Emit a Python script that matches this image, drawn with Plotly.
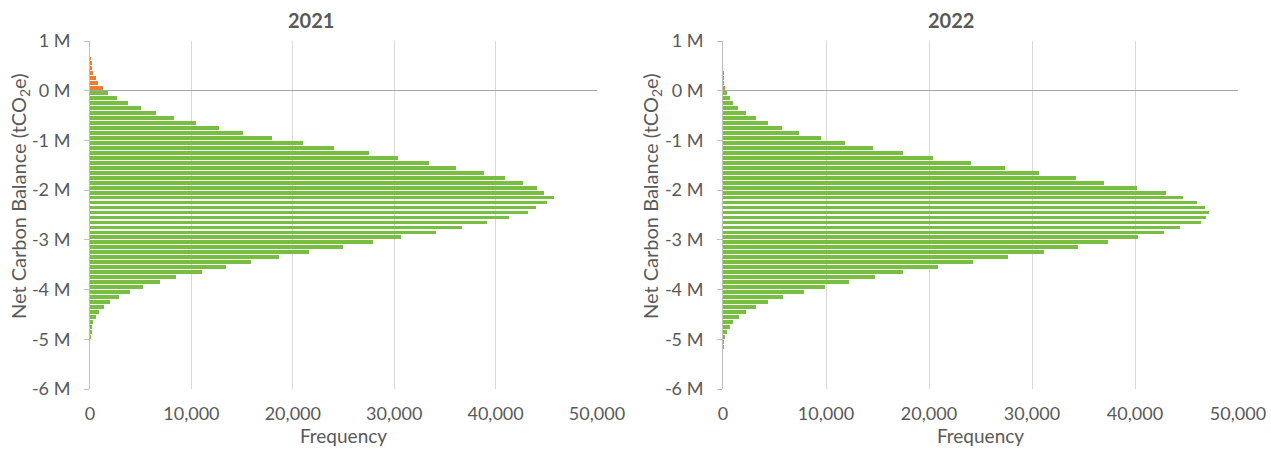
import plotly.graph_objects as go
from plotly.subplots import make_subplots

# Bin width of the histogram (tCO2e)
BIN_WIDTH = 100000

# 2021: frequencies for positive bins (0 -> +0.7M, upward) and negative bins (0 -> -5.0M, downward)
pos_2021 = [1250, 820, 560, 330, 200, 100, 30]
neg_2021 = [1810, 2630, 3780, 5030, 6540, 8280, 10450, 12690, 15120, 17980,
            21000, 24060, 27480, 30400, 33430, 36120, 38820, 40890, 42700, 44110,
            44770, 45750, 45090, 44010, 43220, 41350, 39180, 36710, 34150, 30640,
            27940, 24950, 21560, 18640, 15840, 13380, 11040, 8510, 6900, 5230,
            3940, 2890, 2000, 1380, 920, 560, 330, 200, 100, 40]

# 2022
pos_2022 = [220, 80, 30, 10]
neg_2022 = [390, 650, 970, 1480, 2190, 3160, 4350, 5680, 7420, 9480,
            11860, 14600, 17490, 20340, 24060, 27330, 30670, 34280, 37030, 40160,
            43050, 44680, 46040, 46770, 47220, 46870, 46450, 44330, 42800, 40330,
            37380, 34420, 31190, 27680, 24230, 20860, 17450, 14710, 12240, 9870,
            7860, 5840, 4380, 3230, 2260, 1560, 1010, 660, 380, 170,
            60, 20]

titles = ["2021", "2022"]
y_title = "Net Carbon Balance (tCO<sub>2</sub>e)"
x_title = "Frequency"
y_tickvals = [1e6, 0, -1e6, -2e6, -3e6, -4e6, -5e6, -6e6]
y_ticktext = ["1 M", "0 M", "-1 M", "-2 M", "-3 M", "-4 M", "-5 M", "-6 M"]
x_tickvals = [0, 10000, 20000, 30000, 40000, 50000]

GREEN = "#78BE43"
ORANGE = "#ED7D31"
TEXT = "#595959"
FONT = "Lato"

fig = make_subplots(rows=1, cols=2, horizontal_spacing=0.1)

datasets = [(pos_2021, neg_2021), (pos_2022, neg_2022)]
for col, (pos, neg) in enumerate(datasets, start=1):
    pos_centers = [(i + 0.5) * BIN_WIDTH for i in range(len(pos))]
    neg_centers = [-(i + 0.5) * BIN_WIDTH for i in range(len(neg))]
    fig.add_trace(go.Bar(x=neg, y=neg_centers, orientation="h",
                         marker=dict(color=GREEN, line=dict(width=0)),
                         width=BIN_WIDTH * 0.76, showlegend=False),
                  row=1, col=col)
    fig.add_trace(go.Bar(x=pos, y=pos_centers, orientation="h",
                         marker=dict(color=ORANGE, line=dict(width=0)),
                         width=BIN_WIDTH * 0.76, showlegend=False),
                  row=1, col=col)

# page body margin is removed below, so figure pixels == window pixels
W, H = 1271, 456
TOP, BOTTOM = 41, 389  # plot area in figure pixels


def px_x(px):
    return px / W


def px_y(py):
    return (BOTTOM - py) / (BOTTOM - TOP)


domains = [[px_x(90), px_x(597)], [px_x(723), px_x(1238)]]
for i in range(2):
    xa = "xaxis" if i == 0 else "xaxis2"
    ya = "yaxis" if i == 0 else "yaxis2"
    fig.layout[xa].update(
        domain=domains[i], range=[0, 50000], tickvals=x_tickvals, tickformat=",",
        showgrid=True, gridcolor="#D9D9D9", gridwidth=1, zeroline=False,
        showline=False, ticks="", ticklabelstandoff=12, automargin=False,
        ticklabeloverflow="allow",
        tickfont=dict(size=18, color=TEXT, family=FONT),
        title=dict(text=x_title, font=dict(size=19, color=TEXT, family=FONT), standoff=4),
    )
    fig.layout[ya].update(
        domain=[0, 1], range=[-6e6, 1e6], tickvals=y_tickvals, ticktext=y_ticktext,
        showgrid=False, zeroline=True, zerolinecolor="#A6A6A6", zerolinewidth=1,
        showline=True, linecolor="#BFBFBF", linewidth=1,
        ticks="outside", ticklen=5, tickcolor="#BFBFBF", ticklabelstandoff=10,
        automargin=False,
        tickfont=dict(size=18, color=TEXT, family=FONT),
    )

title_x = [311, 951]
ytitle_x = [19, 651]
annotations = []
for i, t in enumerate(titles):
    annotations.append(dict(text=f"<b>{t}</b>", x=px_x(title_x[i]), y=px_y(20),
                            xref="paper", yref="paper", xanchor="center", yanchor="middle",
                            showarrow=False, font=dict(size=20, color=TEXT, family=FONT)))
    annotations.append(dict(text=y_title, x=px_x(ytitle_x[i]), y=px_y(196),
                            xref="paper", yref="paper", xanchor="center", yanchor="middle",
                            textangle=-90, showarrow=False,
                            font=dict(size=20, color=TEXT, family=FONT)))

fig.update_layout(
    width=W, height=H, plot_bgcolor="white", paper_bgcolor="white",
    margin=dict(l=0, r=0, t=TOP, b=H - BOTTOM, autoexpand=False), bargap=0, barmode="overlay",
    annotations=annotations, font=dict(family=FONT, color=TEXT),
)

fig.write_html("out.html", config={"displayModeBar": False},
               post_script="document.body.style.margin='0';document.body.style.overflow='hidden';")
